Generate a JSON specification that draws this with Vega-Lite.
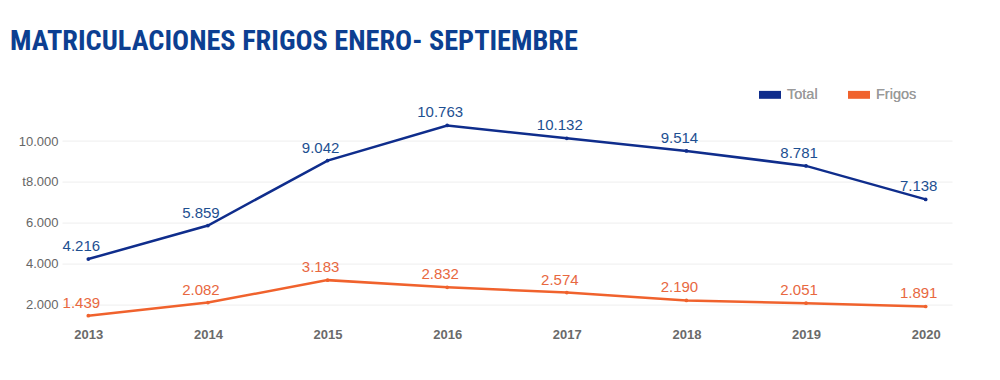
{
  "$schema": "https://vega.github.io/schema/vega-lite/v6.json",
  "autosize": {"type": "none"},
  "width": 890,
  "height": 200,
  "padding": {"left": 62, "top": 120.6, "right": 48, "bottom": 59.4},
  "background": "#ffffff",
  "config": {
    "locale": {"number": {"decimal": ",", "thousands": ".", "grouping": [3], "currency": ["", "€"]}},
    "view": {"stroke": null}
  },
  "title": {
    "text": "MATRICULACIONES FRIGOS ENERO- SEPTIEMBRE",
    "anchor": "start",
    "frame": "group",
    "orient": "top",
    "font": "Roboto Condensed, Liberation Sans Narrow, Roboto",
    "fontWeight": "bold",
    "fontSize": 28.3,
    "color": "#0c3f91",
    "dx": -52,
    "offset": 5,
    "baseline": "alphabetic"
  },
  "data": {
    "values": [
      {"year": "2013", "serie": "Total", "value": 4216},
      {"year": "2014", "serie": "Total", "value": 5859},
      {"year": "2015", "serie": "Total", "value": 9042},
      {"year": "2016", "serie": "Total", "value": 10763},
      {"year": "2017", "serie": "Total", "value": 10132},
      {"year": "2018", "serie": "Total", "value": 9514},
      {"year": "2019", "serie": "Total", "value": 8781},
      {"year": "2020", "serie": "Total", "value": 7138},
      {"year": "2013", "serie": "Frigos", "value": 1439},
      {"year": "2014", "serie": "Frigos", "value": 2082},
      {"year": "2015", "serie": "Frigos", "value": 3183},
      {"year": "2016", "serie": "Frigos", "value": 2832},
      {"year": "2017", "serie": "Frigos", "value": 2574},
      {"year": "2018", "serie": "Frigos", "value": 2190},
      {"year": "2019", "serie": "Frigos", "value": 2051},
      {"year": "2020", "serie": "Frigos", "value": 1891}
    ]
  },
  "encoding": {
    "x": {
      "field": "year", "type": "ordinal",
      "scale": {"type": "point", "padding": 0.22},
      "axis": {
        "title": null, "labelAngle": 0, "domain": false, "ticks": false,
        "labelPadding": 8, "labelFont": "Liberation Sans", "labelFontSize": 13,
        "labelFontWeight": "bold", "labelColor": "#6a6a6a", "grid": false
      }
    },
    "y": {
      "field": "value", "type": "quantitative",
      "scale": {"domain": [1200, 11000], "nice": false, "zero": false},
      "axis": {
        "title": null, "values": [2000, 4000, 6000, 8000, 10000], "format": ",d",
        "labelExpr": "datum.value == 8000 ? 't8.000' : datum.label",
        "domain": false, "ticks": false, "labelPadding": 4,
        "labelFont": "Liberation Sans", "labelFontSize": 13, "labelColor": "#666666",
        "grid": true, "gridColor": "#eeeeee", "gridWidth": 1
      }
    },
    "color": {
      "field": "serie", "type": "nominal",
      "scale": {"domain": ["Total", "Frigos"], "range": ["#0f2d8c", "#f0622d"]},
      "legend": {
        "title": null, "orient": "none", "direction": "horizontal",
        "legendX": 697, "legendY": -37,
        "symbolType": "M-1,-0.36L1,-0.36L1,0.36L-1,0.36Z", "symbolSize": 484,
        "symbolStrokeWidth": 0, "symbolOpacity": 1,
        "labelFont": "Liberation Sans", "labelFontSize": 14.5, "labelColor": "#9a9a9a",
        "labelOffset": 6, "columnPadding": 30
      }
    }
  },
  "layer": [
    {"mark": {"type": "line", "strokeWidth": 2.5}},
    {"mark": {"type": "point", "filled": true, "size": 14, "opacity": 1}},
    {
      "mark": {"type": "text", "dy": -13, "dx": -7, "font": "Liberation Sans", "fontSize": 15},
      "encoding": {
        "text": {"field": "value", "type": "quantitative", "format": ",d"},
        "color": {
          "field": "serie", "type": "nominal",
          "scale": {"domain": ["Total", "Frigos"], "range": ["#1d4f91", "#e8683f"]},
          "legend": null
        }
      }
    }
  ],
  "resolve": {"scale": {"color": "independent"}}
}
